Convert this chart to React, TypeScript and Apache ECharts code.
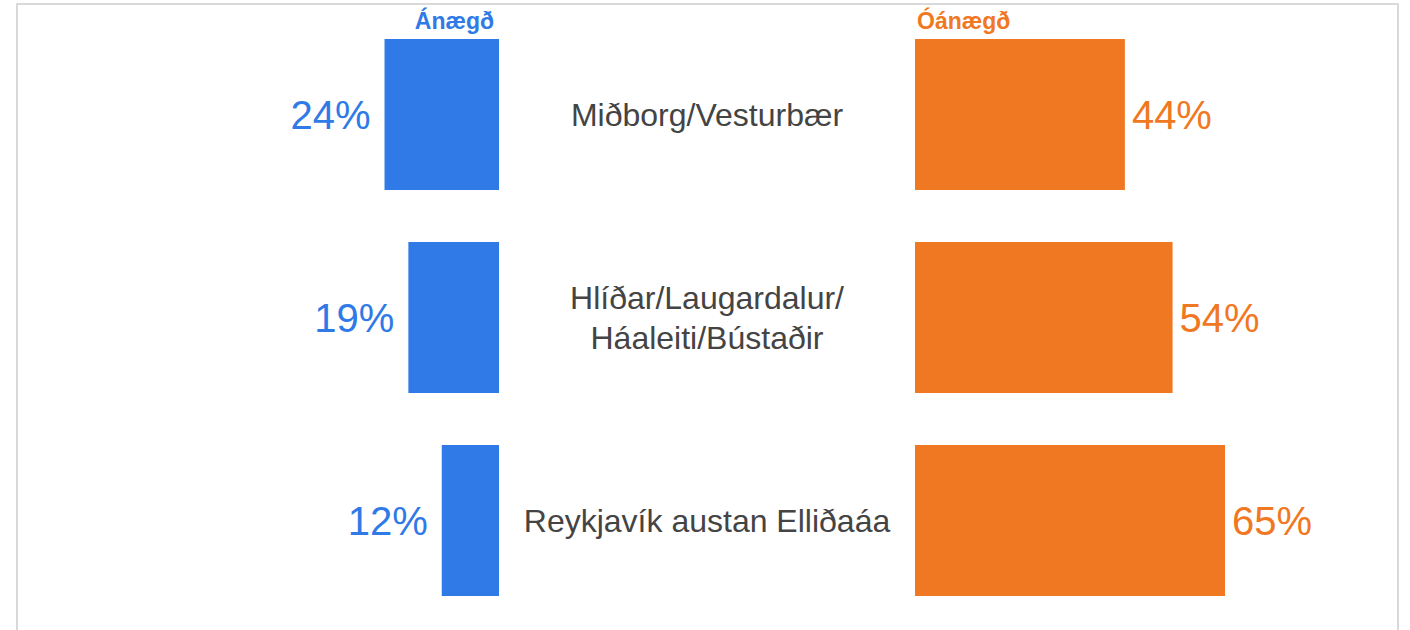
import React, { useEffect, useRef } from "react";
import * as echarts from "echarts";

const categories = [
  "Miðborg/Vesturbær",
  "Hlíðar/Laugardalur/\nHáaleiti/Bústaðir",
  "Reykjavík austan Elliðaáa",
];
const seriesNames = ["Ánægð", "Óánægð"];
const satisfied = [24, 19, 12];
const dissatisfied = [44, 54, 65];

const BLUE = "#2F7AE6";
const ORANGE = "#F17822";
const FONT = "'Liberation Sans', Arial, sans-serif";

export default function App() {
  const ref = useRef<HTMLDivElement>(null);
  useEffect(() => {
    if (!ref.current) return;
    const chart = echarts.init(ref.current, undefined, { renderer: "svg" });
    const axisOff = {
      axisLine: { show: false },
      axisTick: { show: false },
      splitLine: { show: false },
    };
    chart.setOption({
      animation: false,
      backgroundColor: "#ffffff",
      textStyle: { fontFamily: FONT },
      grid: [
        { left: 22, width: 477, top: 13, bottom: 8 },
        { left: 915, width: 477, top: 13, bottom: 8 },
      ],
      xAxis: [
        { type: "value", gridIndex: 0, min: 0, max: 100, inverse: true, axisLabel: { show: false }, ...axisOff },
        { type: "value", gridIndex: 1, min: 0, max: 100, axisLabel: { show: false }, ...axisOff },
      ],
      yAxis: [
        { type: "category", gridIndex: 0, data: categories, inverse: true, axisLabel: { show: false }, ...axisOff },
        {
          type: "category",
          gridIndex: 1,
          data: categories,
          inverse: true,
          position: "left",
          ...axisOff,
          axisLabel: {
            show: true,
            align: "center",
            margin: 208,
            fontSize: 32,
            lineHeight: 40,
            color: "#444444",
            fontFamily: FONT,
          },
        },
      ],
      graphic: [
        {
          type: "rect",
          shape: { x: 17, y: 4, width: 1381, height: 700 },
          style: { fill: "none", stroke: "#d9d9d9", lineWidth: 2 },
          silent: true,
        },
        {
          type: "text",
          x: 494,
          y: 21,
          style: {
            text: seriesNames[0],
            fill: BLUE,
            font: `bold 23px ${FONT}`,
            textAlign: "right",
            textVerticalAlign: "middle",
          },
        },
        {
          type: "text",
          x: 917,
          y: 21,
          style: {
            text: seriesNames[1],
            fill: ORANGE,
            font: `bold 23px ${FONT}`,
            textAlign: "left",
            textVerticalAlign: "middle",
          },
        },
      ],
      series: [
        {
          name: seriesNames[0],
          type: "bar",
          xAxisIndex: 0,
          yAxisIndex: 0,
          data: satisfied,
          barCategoryGap: "25.6%",
          itemStyle: { color: BLUE },
          label: {
            show: true,
            position: "left",
            distance: 14,
            formatter: "{c}%",
            fontSize: 40,
            color: BLUE,
            fontFamily: FONT,
          },
        },
        {
          name: seriesNames[1],
          type: "bar",
          xAxisIndex: 1,
          yAxisIndex: 1,
          data: dissatisfied,
          barCategoryGap: "25.6%",
          itemStyle: { color: ORANGE },
          label: {
            show: true,
            position: "right",
            distance: 7,
            formatter: "{c}%",
            fontSize: 40,
            color: ORANGE,
            fontFamily: FONT,
          },
        },
      ],
    });
    return () => chart.dispose();
  }, []);
  return (
    <div
      ref={ref}
      style={{ position: "fixed", left: 0, top: 0, width: 1410, height: 630 }}
    />
  );
}
